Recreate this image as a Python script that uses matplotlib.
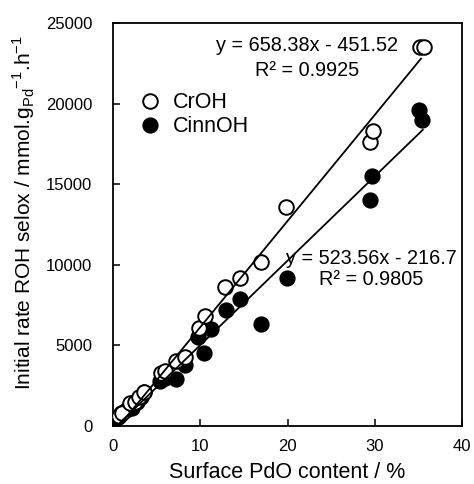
import matplotlib
matplotlib.use("Agg")
import matplotlib.pyplot as plt
import numpy as np

plt.rcParams['font.family'] = ['Liberation Sans', 'DejaVu Sans']
plt.rcParams['mathtext.fontset'] = 'custom'
plt.rcParams['mathtext.rm'] = 'Liberation Sans'

croh_x = [0.7, 1.0, 2.0, 2.5, 3.0, 3.5, 5.5, 6.0, 7.2, 8.2, 9.8, 10.5, 12.8, 14.5, 17.0, 19.8, 29.5, 29.8, 35.2, 35.6]
croh_y = [600, 800, 1400, 1500, 1800, 2100, 3300, 3400, 4050, 4300, 6050, 6800, 8600, 9200, 10200, 13600, 17600, 18300, 23500, 23500]

cinn_x = [0.5, 0.9, 1.5, 2.2, 2.8, 3.2, 3.6, 5.4, 6.0, 7.2, 8.2, 9.7, 10.4, 11.2, 12.9, 14.6, 17.0, 19.9, 29.4, 29.7, 35.1, 35.4]
cinn_y = [500, 800, 1000, 1100, 1500, 1800, 2100, 2800, 3000, 2900, 3800, 5500, 4500, 6000, 7200, 7900, 6300, 9200, 14000, 15500, 19600, 19000]

fit_croh = (658.38, -451.52)
fit_cinn = (523.56, -216.7)
fit_range_croh = (0.6, 35.3)
fit_range_cinn = (0.5, 35.5)

x_ticks = [0, 10, 20, 30, 40]
y_ticks = [0, 5000, 10000, 15000, 20000, 25000]

fig = plt.figure(figsize=(4.74, 4.84), dpi=100)
ax = fig.add_axes([0.2384, 0.1198, 0.7363, 0.8327])

ms = 10.5
ax.plot(cinn_x, cinn_y, 'o', ms=ms, mfc='black', mec='black', mew=1.2, label='CinnOH', zorder=3)
ax.plot(croh_x, croh_y, 'o', ms=ms, mfc='white', mec='black', mew=1.4, label='CrOH', zorder=4)

for (m, b), (x0, x1) in [(fit_croh, fit_range_croh), (fit_cinn, fit_range_cinn)]:
    xs = np.array([x0, x1])
    ax.plot(xs, m * xs + b, '-', color='black', lw=1.3, zorder=5)

ax.set_xlim(0, 40)
ax.set_ylim(0, 25000)
ax.set_xticks(x_ticks)
ax.set_yticks(y_ticks)
ax.tick_params(direction='in', length=5, width=1.1, labelsize=12)
ax.tick_params(axis='y', pad=15)
ax.tick_params(axis='x', pad=9)
for s in ax.spines.values():
    s.set_linewidth(1.3)

ax.set_xlabel('Surface PdO content / %', fontsize=15.5, labelpad=6)
ax.set_ylabel(r'Initial rate ROH selox / mmol.g$_\mathregular{Pd}$$^\mathregular{-1}$.h$^\mathregular{-1}$', fontsize=15)
ax.yaxis.set_label_coords(-0.218, 0.53)

fs = 14.3
ax.text(22.2, 23630, 'y = 658.38x - 451.52', ha='center', va='center', fontsize=fs, zorder=6)
ax.text(22.2, 22080, 'R² = 0.9925', ha='center', va='center', fontsize=fs, zorder=6)
ax.text(29.6, 10420, 'y = 523.56x - 216.7', ha='center', va='center', fontsize=fs, zorder=6)
ax.text(29.6, 9060, 'R² = 0.9805', ha='center', va='center', fontsize=fs, zorder=6)

h = ax.get_legend_handles_labels()[0]
ax.legend([h[1], h[0]], ['CrOH', 'CinnOH'], loc='upper left', bbox_to_anchor=(0.05, 0.85),
          frameon=False, fontsize=15.5, handlelength=1.0, handletextpad=0.55, labelspacing=0.15,
          borderaxespad=0)

fig.savefig('out.png', dpi=100)
